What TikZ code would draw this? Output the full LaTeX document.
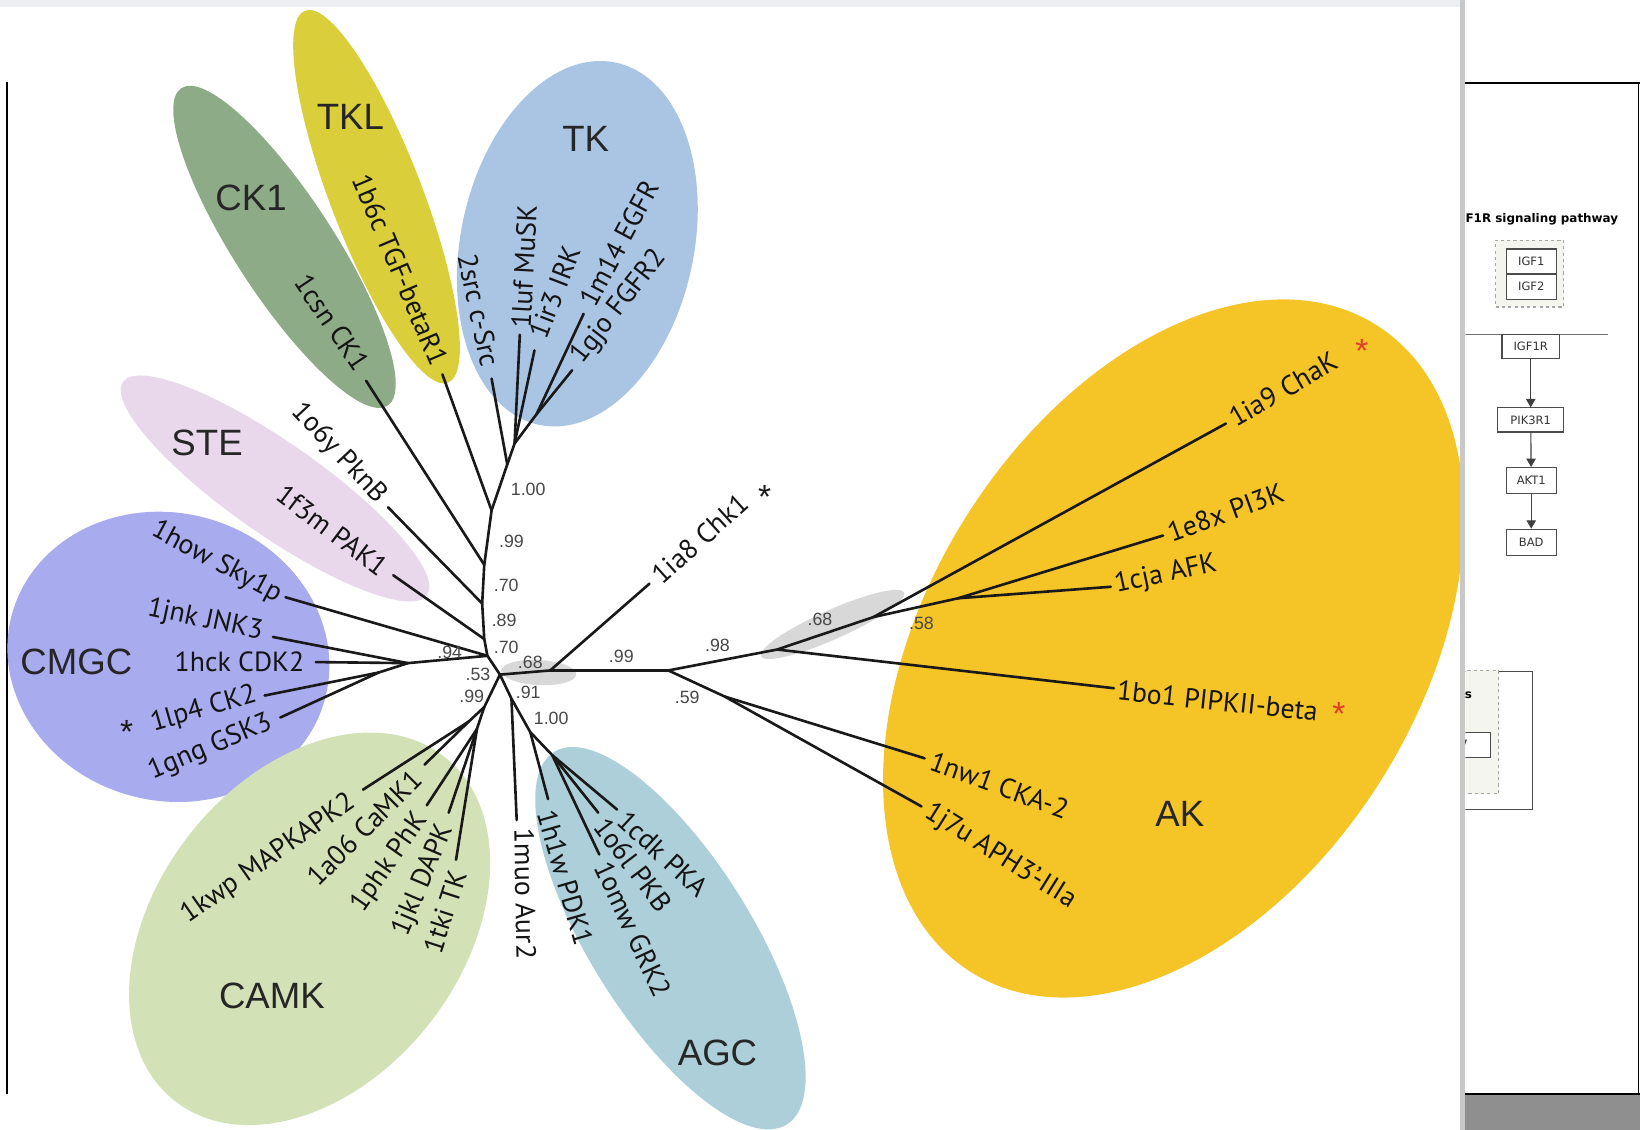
\documentclass[tikz,border=0pt]{standalone}
\usepackage{fontspec}
\setmainfont{PT Sans}
\newfontfamily\arialfont{Liberation Sans}
\newfontfamily\panelfont{DejaVu Sans}
\usetikzlibrary{shapes.geometric,arrows.meta}

\definecolor{ckonecol}{RGB}{142,171,135}
\definecolor{tklcol}{RGB}{218,207,58}
\definecolor{tkcol}{RGB}{170,197,228}
\definecolor{stecol}{RGB}{233,216,236}
\definecolor{cmgccol}{RGB}{168,171,237}
\definecolor{camkcol}{RGB}{211,226,182}
\definecolor{agccol}{RGB}{172,207,217}
\definecolor{akcol}{RGB}{245,196,38}
\definecolor{hilite}{RGB}{216,216,216}
\definecolor{starred}{RGB}{225,60,40}
\definecolor{barcol}{RGB}{200,200,200}
\definecolor{stripcol}{RGB}{236,239,241}
\definecolor{footcol}{RGB}{143,143,143}
\definecolor{grpfill}{RGB}{245,245,239}

\begin{document}
\begin{tikzpicture}[
    x=1pt, y=-1pt,
    clade/.style={ellipse, inner sep=0pt},
    branch/.style={line width=2.5pt, black!90, line cap=round},
    leaf/.style={font=\fontsize{26.5}{30}\selectfont, text=black!92, inner sep=0pt},
    grp/.style={font=\arialfont\fontsize{35}{40}\selectfont, text=black!85},
    boot/.style={font=\arialfont\fontsize{17}{20}\selectfont, text=black!72, inner sep=0pt},
    starmark/.style={font=\arialfont\fontsize{32}{32}\selectfont, anchor=base, inner sep=0pt},
    pwbox/.style={draw=black!70, fill=white, line width=1.1pt, inner sep=0pt,
      font=\panelfont\fontsize{11}{13}\selectfont, text=black!80},
    pwtitle/.style={font=\panelfont\bfseries\fontsize{11.4}{13}\selectfont, inner sep=0pt},
    pwarrow/.style={line width=1.1pt, black!75, -{Triangle[length=8pt,width=9pt]}},
  ]
  \useasboundingbox (0,0) rectangle (1568,1080);

  % ---- window frame ----------------------------------------------
  \fill[stripcol] (0,0) rectangle (1396,6.5);
  \draw[line width=2pt] (6.5,78) -- (6.5,1046);

  % ---- clades -----------------------------------------------------
  \node[clade, fill=ckonecol, minimum width=362pt, minimum height=95pt, rotate=-57] (ck1) at (272,236) {};
  \node[clade, fill=tklcol, minimum width=381pt, minimum height=88pt, rotate=-69] (tkl) at (360,188) {};
  \node[clade, fill=tkcol, minimum width=354pt, minimum height=223pt, rotate=78] (tk) at (552,233) {};
  \node[clade, fill=stecol, minimum width=355pt, minimum height=88pt, rotate=-35] (ste) at (263,467) {};
  \node[clade, fill=cmgccol, minimum width=310pt, minimum height=275pt, rotate=-15] (cmgc) at (161,628) {};
  \node[clade, fill=camkcol, minimum width=418pt, minimum height=292pt, rotate=52] (camk) at (296,888) {};
  \node[clade, fill=agccol, minimum width=420pt, minimum height=155pt, rotate=-58] (agc) at (641,897) {};
  \node[clade, fill=akcol, minimum width=730pt, minimum height=470pt, rotate=58] (ak) at (1122,620) {};

  % grey support patches
  \node[clade, fill=hilite, minimum width=72pt, minimum height=24pt, rotate=-3] (hl-a) at (515,643) {};
  \node[clade, fill=hilite, minimum width=150pt, minimum height=28pt, rotate=24] (hl-b) at (796,597) {};

  \node[grp] (g-ck1) at (240,189) {CK1};
  \node[grp] (g-tkl) at (335,112) {TKL};
  \node[grp] (g-tk) at (560,133) {TK};
  \node[grp] (g-ste) at (198,423) {STE};
  \node[grp] (g-cmgc) at (73,633) {CMGC};
  \node[grp] (g-camk) at (260,952) {CAMK};
  \node[grp] (g-agc) at (686,1007) {AGC};
  \node[grp] (g-ak) at (1128,778) {AK};

  % ---- inner nodes of the tree -----------------------------------
  \coordinate (h0) at (478,645);
  \coordinate (t1) at (466,627);
  \coordinate (t2) at (463,611);
  \coordinate (t3) at (461,577);
  \coordinate (t4) at (463,540);
  \coordinate (t5) at (470,488);
  \coordinate (t6) at (485,444);
  \coordinate (tk1) at (492,424);
  \coordinate (tk2) at (513,396);
  \coordinate (n94) at (390,634);
  \coordinate (ncg) at (362,643);
  \coordinate (ncamk) at (463,676);
  \coordinate (nc1) at (448,690);
  \coordinate (nc2) at (456,697);
  \coordinate (n91) at (489,668);
  \coordinate (n100) at (507,700);
  \coordinate (nagc) at (528,722);
  \coordinate (n68) at (526,641);
  \coordinate (n99) at (639,641);
  \coordinate (n98) at (743,621);
  \coordinate (na) at (835,590);
  \coordinate (nb) at (916,572);
  \coordinate (n59) at (693,666);

  % ---- leaf ends ---------------------------------------------------
  \coordinate (e-ck1) at (350,364);
  \coordinate (e-tkl) at (423,358);
  \coordinate (e-src) at (470,362);
  \coordinate (e-musk) at (497,320);
  \coordinate (e-irk) at (511,335);
  \coordinate (e-egfr) at (558,300);
  \coordinate (e-fgfr) at (547,354);
  \coordinate (e-pknb) at (371,485);
  \coordinate (e-pak) at (376,550);
  \coordinate (e-sky) at (273,571);
  \coordinate (e-jnk) at (261,609);
  \coordinate (e-cdk) at (302,633);
  \coordinate (e-ck2) at (253,665);
  \coordinate (e-gsk) at (268,686);
  \coordinate (e-mapk) at (347,755);
  \coordinate (e-camkone) at (406,731);
  \coordinate (e-phk) at (408,770);
  \coordinate (e-dapk) at (429,777);
  \coordinate (e-tki) at (436,822);
  \coordinate (e-aur) at (494,784);
  \coordinate (e-pdk) at (524,764);
  \coordinate (e-pkb) at (572,777);
  \coordinate (e-pka) at (590,774);
  \coordinate (e-grk) at (573,817);
  \coordinate (e-chk) at (621,558);
  \coordinate (e-chak) at (1172,405);
  \coordinate (e-pik) at (1112,512);
  \coordinate (e-afk) at (1062,561);
  \coordinate (e-pipk) at (1065,658);
  \coordinate (e-cka) at (884,725);
  \coordinate (e-aph) at (881,771);

  % ---- branches ----------------------------------------------------
  \draw[branch] (h0) -- (t1) -- (t2) -- (t3) -- (t4) -- (t5) -- (t6) -- (tk1) -- (tk2);
  \draw[branch] (t1) -- (n94) -- (ncg);
  \draw[branch] (h0) -- (n68) -- (n99) -- (n98) -- (na) -- (nb);
  \draw[branch] (n99) -- (n59);
  \draw[branch] (h0) -- (ncamk) -- (nc1);
  \draw[branch] (ncamk) -- (nc2);
  \draw[branch] (h0) -- (n91) -- (n100) -- (nagc);
  \foreach \a/\b in {t4/e-ck1, t5/e-tkl, t6/e-src, tk1/e-musk, tk1/e-irk, tk2/e-egfr, tk2/e-fgfr,
      t3/e-pknb, t2/e-pak, t1/e-sky, n94/e-jnk, n94/e-cdk, ncg/e-ck2, ncg/e-gsk,
      nc1/e-mapk, nc1/e-camkone, nc2/e-phk, nc2/e-dapk, nc2/e-tki,
      n91/e-aur, n100/e-pdk, nagc/e-pkb, nagc/e-pka, nagc/e-grk,
      n68/e-chk, na/e-chak, nb/e-pik, nb/e-afk, n98/e-pipk, n59/e-cka, n59/e-aph}
    \draw[branch] (\a) -- (\b);

  % ---- support values ---------------------------------------------
  \foreach \x/\y/\v [count=\i] in {505/468/1.00, 489/518/.99, 484/560/.70, 482/593/.89,
      484/619/.70, 430/624/.94, 457/645/.53, 507/633/.68, 451/666/.99, 505/662/.91,
      527/687/1.00, 594/628/.99, 686/617/.98, 784/592/.68, 881/596/.58, 657/667/.59}
    \node[boot] (bs\i) at (\x,\y) {\v};

  % ---- leaf labels -------------------------------------------------
  \node[leaf, anchor=east, rotate=-56] (l-ck1) at (347,352) {1csn CK1};
  \node[leaf, anchor=east, rotate=-67] (l-tkl) at (421,348) {1b6c TGF-betaR1};
  \node[leaf, anchor=east, rotate=-78] (l-src) at (469,350) {2src c-Src};
  \node[leaf, anchor=west, rotate=87] (l-musk) at (498,314) {1luf MuSK};
  \node[leaf, anchor=west, rotate=69] (l-irk) at (514,322) {1ir3 IRK};
  \node[leaf, anchor=west, rotate=62] (l-egfr) at (561,291) {1m14 EGFR};
  \node[leaf, anchor=west, rotate=52] (l-fgfr) at (552,345) {1gjo FGFR2};
  \node[leaf, anchor=east, rotate=-47] (l-pknb) at (365,478) {1o6y PknB};
  \node[leaf, anchor=east, rotate=-37] (l-pak) at (368,545) {1f3m PAK1};
  \node[leaf, anchor=east, rotate=-28] (l-sky) at (268,570) {1how Sky1p};
  \node[leaf, anchor=east, rotate=-12] (l-jnk) at (251,605) {1jnk JNK3};
  \node[leaf, anchor=east] (l-cdk) at (291,633) {1hck CDK2};
  \node[leaf, anchor=east, rotate=16] (l-ck2) at (245,664) {1lp4 CK2};
  \node[leaf, anchor=east, rotate=23] (l-gsk) at (259,690) {1gng GSK3};
  \node[leaf, anchor=east, rotate=35] (l-mapk) at (337,765) {1kwp MAPKAPK2};
  \node[leaf, anchor=east, rotate=45] (l-camkone) at (399,741) {1a06 CaMK1};
  \node[leaf, anchor=east, rotate=55] (l-phk) at (404,780) {1phk PhK};
  \node[leaf, anchor=east, rotate=67] (l-dapk) at (427,790) {1jkl DAPK};
  \node[leaf, anchor=east, rotate=72] (l-tki) at (438,833) {1tki TK};
  \node[leaf, anchor=west, rotate=-89] (l-aur) at (501,792) {1muo Aur2};
  \node[leaf, anchor=west, rotate=-74] (l-pdk) at (522,775) {1h1w PDK1};
  \node[leaf, anchor=west, rotate=-53] (l-pkb) at (574,785) {1o6l PKB};
  \node[leaf, anchor=west, rotate=-43] (l-pka) at (595,780) {1cdk PKA};
  \node[leaf, anchor=west, rotate=-65] (l-grk) at (576,825) {1omw GRK2};
  \node[leaf, anchor=west, rotate=42] (l-chk) at (627,553) {1ia8 Chk1};
  \node[leaf, anchor=west, rotate=30] (l-chak) at (1177,401) {1ia9 ChaK};
  \node[leaf, anchor=west, rotate=20] (l-pik) at (1117,510) {1e8x PI3K};
  \node[leaf, anchor=west, rotate=12] (l-afk) at (1066,560) {1cja AFK};
  \node[leaf, anchor=west, rotate=-6] (l-pipk) at (1068,660) {1bo1 PIPKII-beta};
  \node[leaf, anchor=west, rotate=-20] (l-cka) at (890,727) {1nw1 CKA-2};
  \node[leaf, anchor=west, rotate=-32] (l-aph) at (886,775) {1j7u APH3'-IIIa};

  % stars
  \node[starmark, text=black!90] (s-chk) at (731,486) {*};
  \node[starmark, text=black!90] (s-ck2) at (121,711) {*};
  \node[starmark, text=starred] (s-chak) at (1302,347) {*};
  \node[starmark, text=starred] (s-pipk) at (1280,694) {*};

  % ---- pathway panel -----------------------------------------------
  \begin{scope}
    \clip (1401,0) rectangle (1568,1080);
    \node[pwtitle, anchor=west] (pw-title) at (1401,210) {F1R signaling pathway};
    \node[draw=black!35, dashed, fill=grpfill, line width=1pt, minimum width=65pt, minimum height=64pt, inner sep=0pt] (igfgrp) at (1462.5,261.5) {};
    \node[pwbox, minimum width=48pt, minimum height=24pt] (igf1) at (1464,250) {IGF1};
    \node[pwbox, minimum width=48pt, minimum height=24pt] (igf2) at (1464,274) {IGF2};
    \draw[black!55, line width=1.3pt] (1401,320) -- (1537,320);
    \node[pwbox, minimum width=55pt, minimum height=23pt] (igf1r) at (1463.5,331.5) {IGF1R};
    \node[pwbox, minimum width=63pt, minimum height=23pt] (pik3r1) at (1463.5,401.5) {PIK3R1};
    \node[pwbox, minimum width=48pt, minimum height=25pt] (akt1) at (1464,459.5) {AKT1};
    \node[pwbox, minimum width=48pt, minimum height=25pt] (bad) at (1464,518.5) {BAD};
    \draw[pwarrow] (igf1r) -- (pik3r1);
    \draw[pwarrow] (pik3r1) -- (akt1);
    \draw[pwarrow] (akt1) -- (bad);
    % box cut by the divider
    \node[draw=black!70, line width=1.1pt, minimum width=85pt, minimum height=132pt, inner sep=0pt] (pw-outer) at (1422.5,708) {};
    \node[draw=black!35, dashed, fill=grpfill, line width=1pt, minimum width=53pt, minimum height=118pt, inner sep=0pt] (pw-inner) at (1406.5,700) {};
    \node[pwtitle] (pw-cut) at (1404,665) {s};
    \node[pwbox, minimum width=45pt, minimum height=24pt] (pw-small) at (1402.5,712) {};
    \node[font=\panelfont\fontsize{11}{13}\selectfont, text=black!80, inner sep=0pt] (pw-num) at (1400,712) {7};
  \end{scope}
  \draw[line width=2.2pt] (1401,79.5) -- (1568,79.5);
  \draw[line width=1.5pt] (1566.5,79.5) -- (1566.5,1046);
  \draw[line width=1.5pt] (1401,1046) -- (1568,1046);
  \fill[footcol] (1401,1047) rectangle (1568,1080);
  \fill[barcol] (1396,0) rectangle (1401,1080);
\end{tikzpicture}
\end{document}
